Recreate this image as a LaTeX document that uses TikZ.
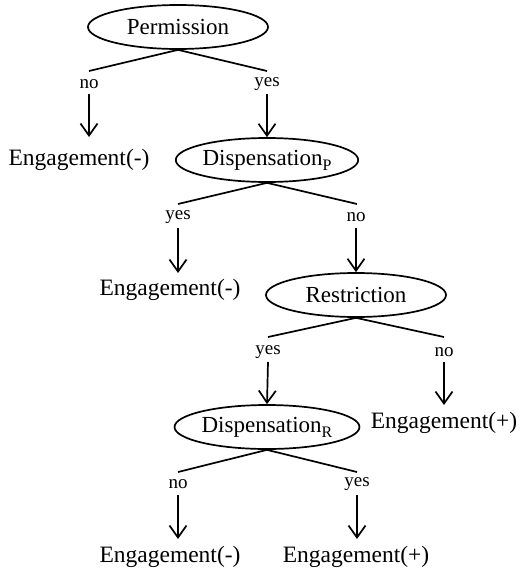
\documentclass[tikz,border=0pt]{standalone}
\usepackage{fontspec}
\setmainfont{Liberation Serif}
\usetikzlibrary{shapes.geometric,arrows.meta}
\newcommand{\lowsub}[1]{\raisebox{-5pt}{\fontsize{16}{16}\selectfont #1}}
\tikzset{
  decision/.style={draw, ellipse, line width=1.7pt, minimum width=180pt, minimum height=44pt, inner sep=0pt, font=\fontsize{23}{26}\selectfont},
  outcome/.style={inner sep=0pt, font=\fontsize{23.5}{26}\selectfont},
  answer/.style={inner sep=0pt, font=\fontsize{19}{20}\selectfont},
  branch/.style={line width=1.7pt},
  flow/.style={line width=1.7pt, -{Straight Barb[length=12pt,width=17pt,line width=1.7pt]}}
}
\begin{document}
\begin{tikzpicture}[x=1pt,y=-1pt]
\useasboundingbox (0,0) rectangle (520,570);
% nodes
\node[decision] (perm) at (178,27) {Permission};
\node[outcome] (e1) at (79,160) {Engagement(-)};
\node[decision] (dp) at (267,160) {Dispensation\lowsub{P}};
\node[outcome] (e2) at (170,290) {Engagement(-)};
\node[decision] (res) at (356,295) {Restriction};
\node[decision] (dr) at (267,427) {Dispensation\lowsub{R}};
\node[outcome] (e3) at (444,423) {Engagement(+)};
\node[outcome] (e4) at (170,557) {Engagement(-)};
\node[outcome] (e5) at (356,557) {Engagement(+)};
% branch ends
\coordinate (b1) at (89,71);  \coordinate (b2) at (267,71);
\coordinate (b3) at (178,204); \coordinate (b4) at (357,204);
\coordinate (b5) at (268,337); \coordinate (b6) at (444,337);
\coordinate (b7) at (178,472); \coordinate (b8) at (357,472);
% labels
\node[answer] (l1) at (89,84) {no};
\node[answer] (l2) at (267,84) {yes};
\node[answer] (l3) at (178,217) {yes};
\node[answer] (l4) at (356,217) {no};
\node[answer] (l5) at (268,352) {yes};
\node[answer] (l6) at (444,352) {no};
\node[answer] (l7) at (178,484) {no};
\node[answer] (l8) at (357,484) {yes};
% arrow starts
\coordinate (s1) at (89,94);  \coordinate (s2) at (267,94);
\coordinate (s3) at (178,228); \coordinate (s4) at (356,228);
\coordinate (s5) at (268,362); \coordinate (s6) at (444,362);
\coordinate (s7) at (178,495); \coordinate (s8) at (357,495);
% branches
\draw[branch] (b1) -- (perm.south) -- (b2);
\draw[branch] (b3) -- (dp.south) -- (b4);
\draw[branch] (b5) -- (res.south) -- (b6);
\draw[branch] (b7) -- (dr.south) -- (b8);
% arrows
\draw[flow] (s1) -- (89,137);
\draw[flow] (s2) -- (dp.north);
\draw[flow] (s3) -- (178,273);
\draw[flow] (s4) -- (res.north);
\draw[flow] (s5) -- (dr.north);
\draw[flow] (s6) -- (444,405);
\draw[flow] (s7) -- (178,539);
\draw[flow] (s8) -- (357,539);
\end{tikzpicture}
\end{document}
